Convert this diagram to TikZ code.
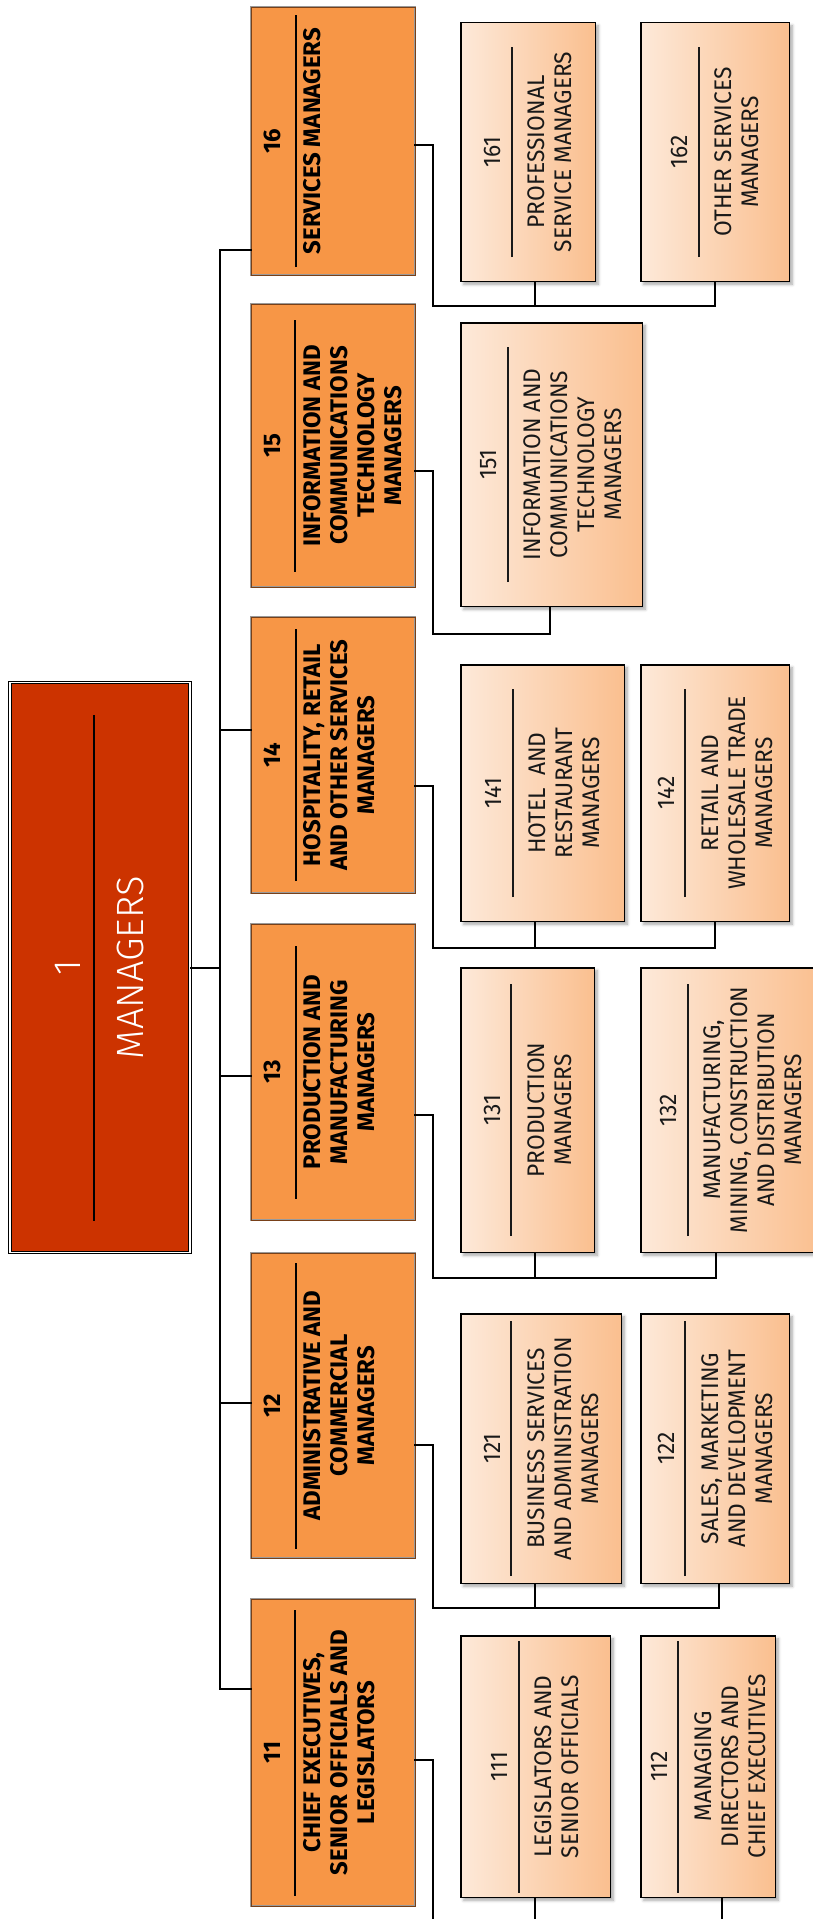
\documentclass[tikz,border=0pt]{standalone}
\usepackage{fontspec}
\usepackage{graphicx}
\usepackage{xcolor}
\usetikzlibrary{shadows.blur}
\setmainfont{Fira Sans}
\newfontfamily\lightfam{Fira Sans Light}
\newfontfamily\subfam{Fira Sans}[FakeStretch=0.95]
\definecolor{rootred}{RGB}{204,51,0}
\definecolor{grporange}{RGB}{247,150,70}
\definecolor{peachlight}{RGB}{253,233,217}
\definecolor{peachdark}{RGB}{250,191,143}
\definecolor{rimbrown}{RGB}{120,64,24}

\newcommand{\rootfont}{\lightfam\fontsize{38}{40}\selectfont}
\newcommand{\grpfont}{\bfseries\fontsize{24}{27}\selectfont}
\newcommand{\subfont}{\subfam\fontsize{24}{27}\selectfont}
\newcommand{\overhang}{\leftskip=0pt plus 1fil minus 100pt\rightskip=0pt plus 1fil minus 100pt}

%% rotated labels: #1 rule length, #2 code, #3 title
\newcommand{\roottext}[3]{\rotatebox{90}{\parbox{#1pt}{\centering\overhang\rootfont
  \textcolor{white}{#2}\\[-25.75pt]\rule{#1pt}{2.5pt}\\[8.75pt]\textcolor{white}{#3}}}}
\newcommand{\grptext}[3]{\makebox[164pt][l]{\hspace{13pt}\rotatebox{90}{\parbox{#1pt}{\centering\overhang\grpfont
  #2\\[-11pt]\rule{#1pt}{2pt}\\[-3pt]#3}}}}
\newcommand{\subtext}[3]{\rotatebox{90}{\parbox{#1pt}{\centering\overhang\subfont
  #2\\[-15pt]\rule{#1pt}{2pt}\\[5pt]#3}}}

\begin{document}
\begin{tikzpicture}[
  x=1pt, y=-1pt,
  link/.style={draw=black, line width=2pt, line cap=rect},
  rootbox/.style={draw=black, double=white, double distance=1.5pt, line width=1pt,
                  fill=rootred, inner sep=0pt, minimum width=180pt, minimum height=570pt},
  grp/.style={draw=gray!80, double=rimbrown, double distance=0.9pt, line width=0.6pt,
              fill=grporange, inner sep=0pt, minimum width=164pt},
  sub/.style={draw=black, line width=1.5pt, left color=peachlight, right color=peachdark,
              text=black!90, inner sep=0pt,
              blur shadow={shadow xshift=3pt, shadow yshift=-3pt,
                           shadow blur radius=3pt, shadow opacity=35}}
]
\useasboundingbox (0,0) rectangle (812,1919);

%% ── Root ──
\node[rootbox] (root) at (100,967.5) {\roottext{506}{1}{MANAGERS}};

%% ── Major groups (all at explicit absolute coordinates) ──
\node[grp, minimum height=268] (g16) at (333,141)
  {\grptext{252}{16}{SERVICES MANAGERS}};
\node[grp, minimum height=283] (g15) at (333,445.5)
  {\grptext{252}{15}{INFORMATION AND\\COMMUNICATIONS\\TECHNOLOGY\\MANAGERS}};
\node[grp, minimum height=276] (g14) at (333,755)
  {\grptext{252}{14}{HOSPITALITY, RETAIL\\AND OTHER SERVICES\\MANAGERS}};
\node[grp, minimum height=296] (g13) at (333,1072)
  {\grptext{253}{13}{PRODUCTION AND\\MANUFACTURING\\MANAGERS}};
\node[grp, minimum height=305] (g12) at (333,1405.5)
  {\grptext{286}{12}{ADMINISTRATIVE AND\\COMMERCIAL\\MANAGERS}};
\node[grp, minimum height=307] (g11) at (333,1752.5)
  {\grptext{286}{11}{CHIEF EXECUTIVES,\\SENIOR OFFICIALS AND\\LEGISLATORS}};

%% ── Sub-major groups ──
\node[sub, minimum width=134.5, minimum height=258.5] (s161) at (528,152)
  {\subtext{210}{161}{PROFESSIONAL\\SERVICE MANAGERS}};
\node[sub, minimum width=148.5, minimum height=258.5] (s162) at (715,152)
  {\subtext{210}{162}{OTHER SERVICES\\MANAGERS}};
\node[sub, minimum width=181.5, minimum height=283.5] (s151) at (551.5,464.5)
  {\subtext{235}{151}{INFORMATION AND\\COMMUNICATIONS\\TECHNOLOGY\\MANAGERS}};
\node[sub, minimum width=163.5, minimum height=256.5] (s141) at (542.5,793)
  {\subtext{208}{141}{HOTEL\ \ AND\\RESTAURANT\\MANAGERS}};
\node[sub, minimum width=148.5, minimum height=256.5] (s142) at (715,793)
  {\subtext{208}{142}{RETAIL AND\\WHOLESALE TRADE\\MANAGERS}};
\node[sub, minimum width=133.5, minimum height=284.5] (s131) at (527.5,1110)
  {\subtext{252}{131}{PRODUCTION\\MANAGERS}};
\node[sub, minimum width=180.5, minimum height=284.5] (s132) at (731,1110)
  {\subtext{252}{132}{MANUFACTURING,\\MINING, CONSTRUCTION\\AND DISTRIBUTION\\MANAGERS}};
\node[sub, minimum width=160.5, minimum height=269.5] (s121) at (541,1448.5)
  {\subtext{255}{121}{BUSINESS SERVICES\\AND ADMINISTRATION\\MANAGERS}};
\node[sub, minimum width=148.5, minimum height=269.5] (s122) at (715,1448.5)
  {\subtext{255}{122}{SALES, MARKETING\\AND DEVELOPMENT\\MANAGERS}};
\node[sub, minimum width=149.5, minimum height=261.5] (s111) at (535.5,1766.5)
  {\subtext{252}{111}{LEGISLATORS AND\\SENIOR OFFICIALS}};
\node[sub, minimum width=134.5, minimum height=261.5] (s112) at (708,1766.5)
  {\subtext{252}{112}{MANAGING\\DIRECTORS AND\\CHIEF EXECUTIVES}};

%% ── Trunk: root to major groups (no tap for 15) ──
\coordinate (tk16) at (220,250);
\coordinate (tk14) at (220,730);
\coordinate (tk13) at (220,1076);
\coordinate (tk12) at (220,1403);
\coordinate (tk11) at (220,1689);
\draw[link] (root.east) -- (root.east -| tk16);
\draw[link] (tk16) -- (tk11);
\foreach \g in {16,14,13,12,11}
  \draw[link] (tk\g) -- (tk\g -| g\g.west);

%% ── Elbows: group east side -> down -> bus ──
\coordinate (e16) at (433,145);  \coordinate (f16) at (433,306);
\coordinate (e15) at (433,471);  \coordinate (f15) at (433,634);
\coordinate (e14) at (433,786);  \coordinate (f14) at (433,948);
\coordinate (e13) at (433,1115); \coordinate (f13) at (433,1278);
\coordinate (e12) at (433,1445); \coordinate (f12) at (433,1608);
\coordinate (e11) at (433,1760); \coordinate (f11) at (433,1919);
\foreach \g in {16,15,14,13,12,11}
  \draw[link] (e\g -| g\g.east) -- (e\g) -- (f\g);

%% ── Bus taps up to each sub-major group ──
\coordinate (k161) at (535,306);  \coordinate (k162) at (715,306);
\coordinate (k151) at (550,634);
\coordinate (k141) at (535,948);  \coordinate (k142) at (715,948);
\coordinate (k131) at (535,1278); \coordinate (k132) at (716,1278);
\coordinate (k121) at (535,1608); \coordinate (k122) at (719,1608);
\coordinate (k111) at (535,1919); \coordinate (k112) at (722,1919);
\foreach \g/\s in {16/162,15/151,14/142,13/132,12/122}
  \draw[link] (f\g) -- (k\s);
\foreach \s in {161,162,151,141,142,131,132,121,122,111,112}
  \draw[link] (k\s) -- (k\s |- s\s.south);

\end{tikzpicture}
\end{document}
